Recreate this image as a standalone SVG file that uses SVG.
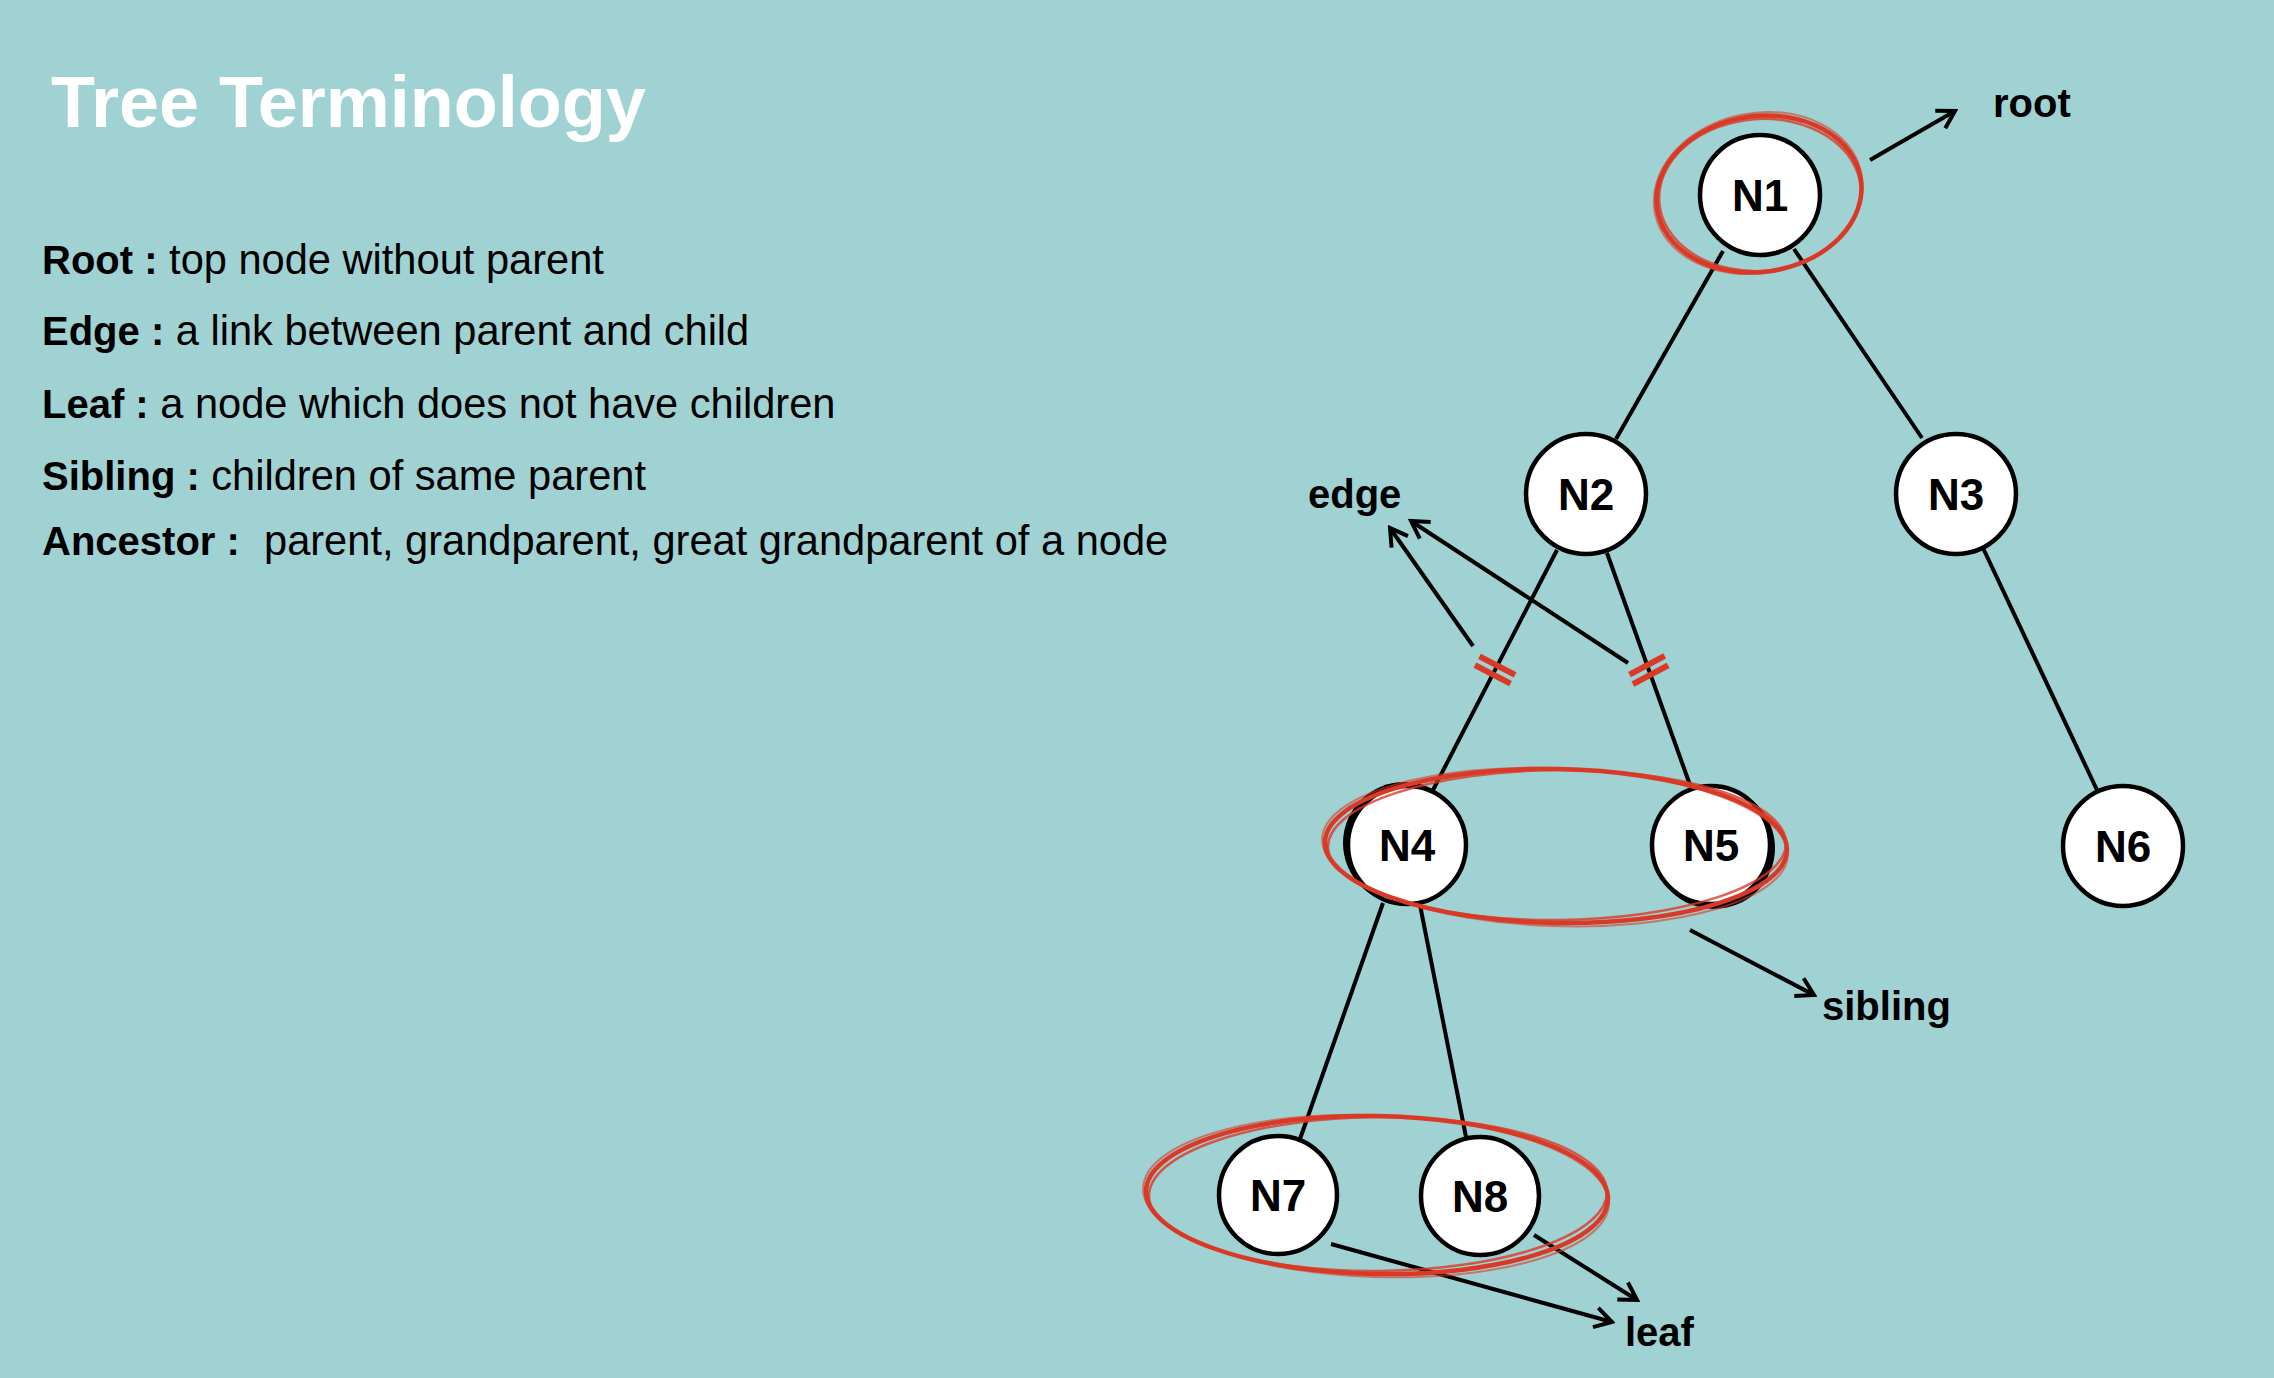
<svg xmlns="http://www.w3.org/2000/svg" width="2274" height="1378" viewBox="0 0 2274 1378">
<defs>
<style>
.t{font-family:"Liberation Sans",Arial,Helvetica,sans-serif;fill:#000}
.b{font-weight:bold;font-size:40px}
.title{font-family:"Liberation Sans",Arial,sans-serif;font-weight:bold;font-size:72px;fill:#fff}
.body{font-size:41.6px}
.lbl{font-family:"Liberation Sans",Arial,sans-serif;font-weight:bold;font-size:40px;fill:#000}
.nd{fill:#fff;stroke:#000;stroke-width:4.5}
.ndl{font-family:"Liberation Sans",Arial,sans-serif;font-weight:bold;font-size:44px;fill:#000;text-anchor:middle}
.edge{stroke:#000;stroke-width:4;fill:none;stroke-linecap:butt}
.arr{stroke:#000;stroke-width:4;fill:none;marker-end:url(#ah)}
.tick{stroke:#d93a27;stroke-width:6;fill:none}
.sk{fill:none;stroke:#d93a27}
</style>
<marker id="ah" viewBox="0 0 24 24" refX="21" refY="12" markerWidth="24" markerHeight="24" markerUnits="userSpaceOnUse" orient="auto">
<path d="M4,2 L21,12 L4,22" fill="none" stroke="#000" stroke-width="4"/>
</marker>
</defs>
<rect width="2274" height="1378" fill="#a0d1d3"/>

<g id="text-panel">
<text class="title" x="51" y="127">Tree Terminology</text>
<text class="t body" x="42" y="274"><tspan class="b">Root :</tspan> top node without parent</text>
<text class="t body" x="42" y="345"><tspan class="b">Edge :</tspan> a link between parent and child</text>
<text class="t body" x="42" y="418"><tspan class="b">Leaf :</tspan> a node which does not have children</text>
<text class="t body" x="42" y="490"><tspan class="b">Sibling :</tspan> children of same parent</text>
<text class="t body" x="42" y="555"><tspan class="b">Ancestor :</tspan><tspan x="264">parent, grandparent, great grandparent of a node</tspan></text>
</g>

<g id="connectors">
<line class="edge" x1="1723" y1="251" x2="1616" y2="439"/>
<line class="edge" x1="1794" y1="249" x2="1922" y2="438"/>
<line class="edge" x1="1557" y1="550" x2="1433" y2="790"/>
<line class="edge" x1="1607" y1="553" x2="1690" y2="785"/>
<line class="edge" x1="1983" y1="548" x2="2097" y2="790"/>
<line class="edge" x1="1383" y1="903" x2="1300" y2="1139"/>
<line class="edge" x1="1420" y1="905" x2="1466" y2="1137"/>
<line class="arr" x1="1870" y1="160" x2="1955" y2="111"/>
<line class="arr" x1="1473" y1="646" x2="1390" y2="528"/>
<line class="arr" x1="1628" y1="663" x2="1411" y2="521"/>
<line class="arr" x1="1690" y1="930" x2="1814" y2="995"/>
<line class="arr" x1="1331" y1="1244" x2="1612" y2="1322"/>
<line class="arr" x1="1534" y1="1235" x2="1637" y2="1300"/>
<line class="tick" x1="1479.5" y1="656.4" x2="1515.1" y2="674.8"/>
<line class="tick" x1="1474.9" y1="665.2" x2="1510.5" y2="683.6"/>
<line class="tick" x1="1664.7" y1="655.9" x2="1629.5" y2="674.7"/>
<line class="tick" x1="1668.1" y1="665.3" x2="1632.9" y2="684.1"/>
</g>

<g id="node-N1"><circle class="nd" cx="1760" cy="195" r="60"/><text class="ndl" x="1760" y="211">N1</text></g>
<g id="node-N2"><circle class="nd" cx="1586" cy="494" r="60"/><text class="ndl" x="1586" y="510">N2</text></g>
<g id="node-N3"><circle class="nd" cx="1956" cy="494" r="60"/><text class="ndl" x="1956" y="510">N3</text></g>
<g id="node-N4"><circle cx="1404" cy="843" r="61" fill="#000"/><circle class="nd" cx="1407" cy="845" r="59"/><text class="ndl" x="1407" y="861">N4</text></g>
<g id="node-N5"><circle cx="1714" cy="848" r="61" fill="#000"/><circle class="nd" cx="1711" cy="845" r="59"/><text class="ndl" x="1711" y="861">N5</text></g>
<g id="node-N6"><circle class="nd" cx="2123" cy="846" r="60"/><text class="ndl" x="2123" y="862">N6</text></g>
<g id="node-N7"><circle class="nd" cx="1278" cy="1195" r="59"/><text class="ndl" x="1278" y="1211">N7</text></g>
<g id="node-N8"><circle class="nd" cx="1480" cy="1196" r="59"/><text class="ndl" x="1480" y="1212">N8</text></g>

<g id="label-root"><text class="lbl" x="1993" y="117">root</text></g>
<g id="label-edge"><text class="lbl" x="1308" y="508">edge</text></g>
<g id="label-sibling"><text class="lbl" x="1822" y="1020">sibling</text></g>
<g id="label-leaf"><text class="lbl" x="1625" y="1346">leaf</text></g>

<g id="highlight-root">
<ellipse class="sk" cx="1759" cy="194" rx="103" ry="78" transform="rotate(-8 1759 194)" stroke-width="4.5"/>
<ellipse class="sk" cx="1760" cy="195" rx="101" ry="76" transform="rotate(-4 1760 195)" stroke-width="2.5" opacity="0.8"/>
<ellipse class="sk" cx="1758" cy="193" rx="105" ry="80" transform="rotate(-11 1758 193)" stroke-width="2" opacity="0.6"/>
</g>
<g id="highlight-siblings">
<ellipse class="sk" cx="1556" cy="846" rx="231" ry="77" transform="rotate(1 1556 846)" stroke-width="4.5"/>
<ellipse class="sk" cx="1557" cy="845" rx="229" ry="75" transform="rotate(-0.5 1557 845)" stroke-width="2.5" opacity="0.8"/>
<ellipse class="sk" cx="1555" cy="847" rx="233" ry="79" transform="rotate(2 1555 847)" stroke-width="2" opacity="0.6"/>
</g>
<g id="highlight-leaves">
<ellipse class="sk" cx="1377" cy="1195" rx="231" ry="79" transform="rotate(1 1377 1195)" stroke-width="4.5"/>
<ellipse class="sk" cx="1378" cy="1194" rx="229" ry="77" transform="rotate(-0.5 1378 1194)" stroke-width="2.5" opacity="0.8"/>
<ellipse class="sk" cx="1376" cy="1196" rx="233" ry="81" transform="rotate(2 1376 1196)" stroke-width="2" opacity="0.6"/>
</g>
</svg>
